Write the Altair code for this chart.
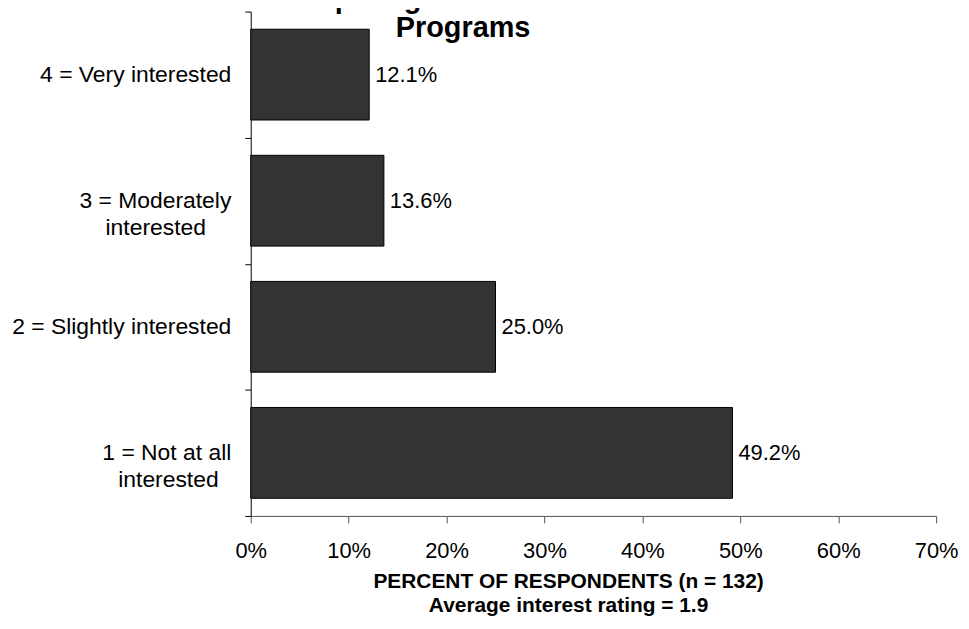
import altair as alt
import pandas as pd

NB = "\u00a0"
WJ = "\u2060"  # keeps the trailing no-break spaces from being trimmed
categories = [
    "4 = Very interested",
    "3 = Moderately\ninterested" + NB * 4 + WJ,
    "2 = Slightly interested",
    "1 = Not at all\ninterested" + NB * 2 + WJ,
]
percents = [12.1, 13.6, 25.0, 49.2]
x_ticks = [0, 10, 20, 30, 40, 50, 60, 70]
title_lines = ["Interest in Participating in North Cascades Institute's", "Programs"]
x_title = ["PERCENT OF RESPONDENTS (n = 132)", "Average interest rating = 1.9"]

df = pd.DataFrame({"category": categories, "pct": percents})

FONT = "Liberation Sans"

y_enc = alt.Y(
    "category:N",
    sort=categories,
    scale=alt.Scale(paddingInner=0, paddingOuter=0),
    axis=alt.Axis(
        title=None,
        tickBand="extent",
        tickSize=6,
        tickColor="#000000",
        domainColor="#000000",
        labelFontSize=23,
        labelColor="#000000",
        labelFont=FONT,
        labelLineHeight=27,
        labelLimit=400,
        labelExpr="split(datum.label, '\\n')",
        labelPadding=14,
        grid=False,
    ),
)

x_enc = alt.X(
    "pct:Q",
    scale=alt.Scale(domain=[0, 70], nice=False),
    axis=alt.Axis(
        title=x_title,
        values=x_ticks,
        labelExpr="datum.value + '%'",
        labelFlush=False,
        labelOverlap=False,
        tickSize=7,
        tickColor="#555555",
        domainColor="#555555",
        labelFontSize=22,
        labelColor="#000000",
        labelFont=FONT,
        labelPadding=18,
        titleFont=FONT,
        titleFontSize=21,
        titleFontWeight="bold",
        titleColor="#000000",
        titleLineHeight=24,
        titleAnchor="start",
        titleAlign="center",
        titleBaseline="top",
        titleX=319,
        titleY=55,
        grid=False,
    ),
)

bars = alt.Chart(df).mark_bar(
    color="#333333", stroke="#000000", strokeWidth=1, height={"band": 0.72}
).encode(x=x_enc, y=y_enc)

labels = alt.Chart(df).transform_calculate(
    lab="format(datum.pct, '.1f') + '%'"
).mark_text(
    align="left", baseline="middle", dx=6, fontSize=22, font=FONT, color="#000000"
).encode(
    x=alt.X("pct:Q"),
    y=alt.Y("category:N", sort=categories),
    text="lab:N",
)

chart = alt.layer(bars, labels).properties(
    width=689,
    height=507,
    autosize=alt.AutoSizeParams(type="none"),
    padding={"left": 244, "top": 2, "right": 25, "bottom": 100},
    background="#ffffff",
    title=alt.TitleParams(
        text=title_lines,
        font=FONT,
        fontSize=29,
        fontWeight="bold",
        color="#000000",
        anchor="middle",
        frame="group",
        offset=-43,
        dx=-131,
        lineHeight=30,
    ),
).configure_view(stroke=None)

chart.save("out.html", embed_options={"renderer": "svg", "actions": False})
